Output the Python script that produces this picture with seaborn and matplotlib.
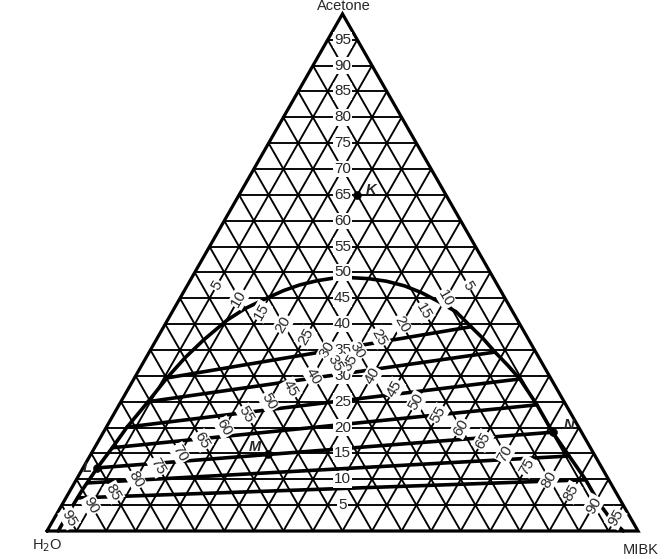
import numpy as np
import pandas as pd
import matplotlib
matplotlib.use("Agg")
import matplotlib.pyplot as plt
import seaborn as sns

# ternary values, wt% (acetone, MIBK); water is the rest
grid_ticks = list(range(5, 100, 5))

curve_acetone = [0, 4.6, 7.9, 12.2, 16.1, 20.1, 25.0, 29.6, 33.5, 36.9, 40.8, 43.0, 44.9,
                 46.5, 47.6, 48.4, 48.9, 49.0, 48.8, 48.3, 47.4, 46.1, 44.4, 42.4, 39.5,
                 37.2, 34.6, 32.0, 29.4, 24.4, 19.1, 14.5, 9.9, 5.4, 2.5, 0]
curve_mibk = [1.9, 1.9, 2.0, 2.4, 3.0, 3.5, 4.6, 5.5, 6.6, 8.0, 10.1, 12.0, 14.5,
              16.8, 19.0, 21.5, 24.0, 26.8, 30.0, 33.3, 36.8, 40.3, 44.0, 48.0, 52.0,
              55.2, 58.5, 62.0, 65.3, 70.7, 76.0, 81.1, 86.2, 90.7, 94.0, 97.5]

raff_acetone = [29.6, 25.0, 20.1, 16.1, 12.2, 9.3, 6.4]
raff_mibk = [5.5, 4.6, 3.5, 3.0, 2.4, 2.2, 2.0]
ext_acetone = [39.5, 34.6, 29.4, 24.4, 19.1, 14.5, 9.9]
ext_mibk = [52.0, 58.5, 65.3, 70.7, 76.0, 81.1, 86.2]

point_names = ["K", "L", "M", "N"]
point_acetone = [65.0, 12.2, 14.8, 19.1]
point_mibk = [20.0, 2.4, 30.0, 76.0]

H = 0.875  # vertical stretch of the scanned triangle


def tern(a, m):
    a = np.asarray(a, dtype=float)
    m = np.asarray(m, dtype=float)
    return m + a / 2, a * H


sns.set_style("white")
plt.rcParams["font.family"] = ["Liberation Sans", "DejaVu Sans"]

fig = plt.figure(figsize=(6.72, 5.59), dpi=100)
ax = fig.add_axes([0, 0, 1, 1])
ax.set_xlim(-47 / 5.91, (672 - 47) / 5.91)
ax.set_ylim((531 - 559) / 5.91, 531 / 5.91)
ax.axis("off")

# grid lines every 5 %
for k in grid_ticks:
    for a0, m0, a1, m1 in [(k, 0, k, 100 - k), (0, k, 100 - k, k), (0, 100 - k, 100 - k, 0)]:
        x, y = tern([a0, a1], [m0, m1])
        ax.plot(x, y, color="black", lw=1.35, zorder=1)

bx, by = tern([0, 0, 100, 0], [0, 100, 0, 0])
ax.plot(bx, by, color="black", lw=2.3, zorder=2, solid_joinstyle="miter")

# binodal curve
cx, cy = tern(curve_acetone, curve_mibk)
curve = pd.DataFrame({"x": cx, "y": cy})
sns.lineplot(data=curve, x="x", y="y", sort=False, estimator=None,
             color="black", lw=2.6, ax=ax, zorder=3)

# tie lines
rx, ry = tern(raff_acetone, raff_mibk)
ex, ey = tern(ext_acetone, ext_mibk)
ties = pd.DataFrame({
    "x": np.concatenate([rx, ex]),
    "y": np.concatenate([ry, ey]),
    "tie": list(range(len(rx))) * 2,
})
sns.lineplot(data=ties, x="x", y="y", units="tie", estimator=None, sort=False,
             color="black", lw=2.6, ax=ax, zorder=3)

# scale labels on the three altitudes
box = dict(boxstyle="square,pad=0.08", fc="white", ec="none")
fs = 11
for k in grid_ticks:
    x, y = tern(k, (100 - k) / 2)
    ax.text(x, y, str(k), ha="center", va="center", fontsize=fs, bbox=box, zorder=5)
    x, y = tern((100 - k) / 2, k)
    ax.text(x, y, str(k), ha="center", va="center", fontsize=fs, rotation=60,
            rotation_mode="anchor", bbox=box, zorder=5)
    x, y = tern((100 - k) / 2, (100 - k) / 2)
    ax.text(x, y, str(k), ha="center", va="center", fontsize=fs, rotation=-60,
            rotation_mode="anchor", bbox=box, zorder=5)

# labelled points
px, py = tern(point_acetone, point_mibk)
pts = pd.DataFrame({"x": px, "y": py, "name": point_names})
sns.scatterplot(data=pts, x="x", y="y", color="black", s=32, edgecolor="black",
                ax=ax, zorder=6, legend=False)
offsets = {"K": (2.4, 0.9), "L": (-1.7, 0.0), "M": (-2.2, 1.2), "N": (2.7, 1.3)}
for name, x, y in zip(point_names, px, py):
    dx, dy = offsets[name]
    ax.text(x + dx, y + dy, name, ha="center", va="center", fontsize=10.5,
            style="italic", fontweight="bold", zorder=6)

ax.text(0.0, -2.4, "H$_2$O", ha="center", va="center", fontsize=10.5)
ax.text(100.5, -3.2, "MIBK", ha="center", va="center", fontsize=10.5)
ax.text(50.3, 88.8, "Acetone", ha="center", va="center", fontsize=10.5)

ax.set_xlabel("")
ax.set_ylabel("")
fig.savefig("out.png", dpi=100, facecolor="white")
